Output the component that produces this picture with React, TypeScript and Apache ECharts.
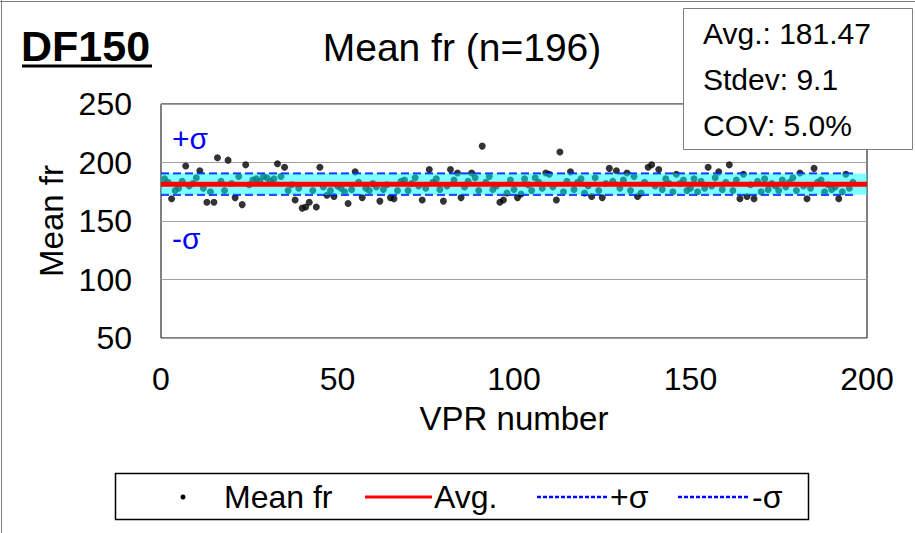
import React, { useEffect, useRef } from "react";
import * as echarts from "echarts";

const vprNumbers: number[] = Array.from({ length: 196 }, (_, i) => i + 1);
const meanFr: number[] = [
  186, 183, 169, 176, 178, 184, 197, 180, 182, 187,
  193, 178, 166, 175, 166, 204, 184, 176, 202, 182,
  170, 188, 164, 198, 181, 185, 186, 184, 188, 187,
  184, 186, 199, 188, 196, 176, 181, 168, 178, 161,
  162, 166, 176, 162, 196, 179, 172, 176, 171, 180,
  178, 175, 165, 177, 192, 183, 170, 178, 176, 182,
  179, 167, 177, 181, 170, 169, 176, 184, 185, 176,
  182, 187, 180, 168, 178, 194, 183, 186, 177, 167,
  180, 194, 185, 191, 170, 179, 184, 191, 187, 176,
  214, 183, 188, 177, 180, 166, 168, 174, 185, 177,
  170, 173, 186, 181, 176, 187, 183, 178, 191, 190,
  179, 168, 209, 175, 184, 192, 177, 183, 186, 174,
  180, 171, 187, 176, 170, 182, 195, 184, 193, 178,
  185, 191, 176, 188, 171, 174, 183, 196, 198, 180,
  194, 177, 186, 182, 175, 190, 182, 185, 176, 178,
  186, 175, 184, 178, 196, 180, 187, 192, 177, 183,
  198, 176, 185, 169, 190, 171, 181, 169, 184, 175,
  186, 177, 182, 180, 176, 185, 179, 183, 187, 176,
  191, 180, 169, 178, 195, 183, 185, 175, 181, 177,
  179, 169, 175, 190, 178, 183,
];
const avgValue = 181.47;
const stdevValue = 9.1;
const covText = "5.0%";
const yTicks = [50, 100, 150, 200, 250];
const xTicks = [0, 50, 100, 150, 200];
const avgSpan = [0, 200];
const sigmaSpan = [0, 197];

const FONT = "'Liberation Sans', Arial, sans-serif";

export default function App() {
  const ref = useRef<HTMLDivElement>(null);
  useEffect(() => {
    if (!ref.current) return;
    const chart = echarts.init(ref.current, undefined, { renderer: "svg" });
    const plus = +(avgValue + stdevValue).toFixed(2);
    const minus = +(avgValue - stdevValue).toFixed(2);
    const legendY = 497;
    chart.setOption({
      animation: false,
      backgroundColor: "#ffffff",
      textStyle: { fontFamily: FONT },
      grid: {
        left: 161,
        right: 48,
        top: 104,
        bottom: 195,
        show: true,
        borderColor: "#000",
        borderWidth: 1,
        backgroundColor: "transparent",
      },
      xAxis: {
        type: "value",
        min: xTicks[0],
        max: xTicks[xTicks.length - 1],
        interval: 50,
        name: "VPR number",
        nameLocation: "middle",
        nameGap: 64,
        nameTextStyle: { fontSize: 33, color: "#000", fontFamily: FONT },
        axisLine: { show: false },
        axisTick: { show: false },
        splitLine: { show: false },
        axisLabel: { fontSize: 32, color: "#000", margin: 25, fontFamily: FONT },
      },
      yAxis: {
        type: "value",
        min: yTicks[0],
        max: yTicks[yTicks.length - 1],
        interval: 50,
        name: "Mean fr",
        nameLocation: "middle",
        nameGap: 90,
        nameTextStyle: { fontSize: 33, color: "#000", fontFamily: FONT },
        axisLine: { show: false },
        axisTick: { show: false },
        splitLine: { show: true, lineStyle: { color: "#a0a0a0", width: 1 } },
        axisLabel: { fontSize: 32, color: "#000", margin: 29, fontFamily: FONT },
      },
      series: [
        {
          name: "Mean fr",
          type: "scatter",
          data: vprNumbers.map((x, i) => [x, meanFr[i]]),
          symbol: "circle",
          symbolSize: 7,
          itemStyle: { color: "#000" },
          z: 2,
        },
        {
          name: "+σ",
          type: "line",
          data: sigmaSpan.map((x) => [x, plus]),
          symbol: "none",
          lineStyle: { color: "#0000ff", width: 2, type: [8, 4] },
          z: 3,
        },
        {
          name: "-σ",
          type: "line",
          data: sigmaSpan.map((x) => [x, minus]),
          symbol: "none",
          lineStyle: { color: "#0000ff", width: 2, type: [8, 4] },
          z: 3,
        },
        {
          name: "band",
          type: "line",
          data: [],
          z: 4,
          markArea: {
            silent: true,
            z: 4,
            itemStyle: { color: "rgba(0,255,255,0.5)" },
            data: [[{ coord: [avgSpan[0], minus] }, { coord: [avgSpan[1], plus] }]],
          },
        },
        {
          name: "Avg.",
          type: "line",
          data: avgSpan.map((x) => [x, avgValue]),
          symbol: "none",
          lineStyle: { color: "#ff0000", width: 5 },
          z: 5,
        },
      ],
      graphic: [
        { type: "line", shape: { x1: 0, y1: 1.5, x2: 915, y2: 1.5 }, style: { stroke: "#808080", lineWidth: 1 } },
        { type: "line", shape: { x1: 1.5, y1: 0, x2: 1.5, y2: 533 }, style: { stroke: "#808080", lineWidth: 1 } },
        {
          type: "text",
          left: 21,
          top: 24,
          style: { text: "DF150", font: `bold 43px ${FONT}`, fill: "#000" },
        },
        { type: "line", shape: { x1: 22, y1: 66, x2: 152, y2: 66 }, style: { stroke: "#000", lineWidth: 3 } },
        {
          type: "text",
          x: 462,
          y: 47,
          style: { text: "Mean fr (n=196)", font: `39px ${FONT}`, fill: "#000", align: "center", verticalAlign: "middle" },
        },
        {
          type: "rect",
          shape: { x: 683.5, y: 8.5, width: 229, height: 141 },
          style: { fill: "#fff", stroke: "#808080", lineWidth: 1 },
          z: 10,
        },
        { type: "text", x: 703, y: 33, z: 11, style: { text: `Avg.: ${avgValue.toFixed(2)}`, font: `30px ${FONT}`, fill: "#000", verticalAlign: "middle" } },
        { type: "text", x: 703, y: 79, z: 11, style: { text: `Stdev: ${stdevValue.toFixed(1)}`, font: `30px ${FONT}`, fill: "#000", verticalAlign: "middle" } },
        { type: "text", x: 703, y: 125, z: 11, style: { text: `COV: ${covText}`, font: `30px ${FONT}`, fill: "#000", verticalAlign: "middle" } },
        { type: "text", x: 172, y: 138, z: 11, style: { text: "+σ", font: `30px ${FONT}`, fill: "#0000ff", verticalAlign: "middle" } },
        { type: "text", x: 172, y: 238, z: 11, style: { text: "-σ", font: `30px ${FONT}`, fill: "#0000ff", verticalAlign: "middle" } },
        {
          type: "rect",
          shape: { x: 115.5, y: 473.5, width: 693, height: 46 },
          style: { fill: "#fff", stroke: "#000", lineWidth: 1.5 },
        },
        { type: "circle", shape: { cx: 183, cy: legendY, r: 2.5 }, style: { fill: "#000" } },
        { type: "text", x: 224, y: legendY, style: { text: "Mean fr", font: `32px ${FONT}`, fill: "#000", verticalAlign: "middle" } },
        { type: "line", shape: { x1: 365, y1: legendY, x2: 432, y2: legendY }, style: { stroke: "#ff0000", lineWidth: 3 } },
        { type: "text", x: 434, y: legendY, style: { text: "Avg.", font: `32px ${FONT}`, fill: "#000", verticalAlign: "middle" } },
        { type: "line", shape: { x1: 537, y1: legendY, x2: 608, y2: legendY }, style: { stroke: "#0000ff", lineWidth: 2.5, lineDash: [4, 2] } },
        { type: "text", x: 610, y: legendY, style: { text: "+σ", font: `32px ${FONT}`, fill: "#000", verticalAlign: "middle" } },
        { type: "line", shape: { x1: 678, y1: legendY, x2: 750, y2: legendY }, style: { stroke: "#0000ff", lineWidth: 2.5, lineDash: [4, 2] } },
        { type: "text", x: 752, y: legendY, style: { text: "-σ", font: `32px ${FONT}`, fill: "#000", verticalAlign: "middle" } },
      ],
    });
    return () => chart.dispose();
  }, []);
  return (
    <div
      ref={ref}
      style={{ position: "fixed", left: 0, top: 0, width: 915, height: 533, background: "#fff" }}
    />
  );
}
